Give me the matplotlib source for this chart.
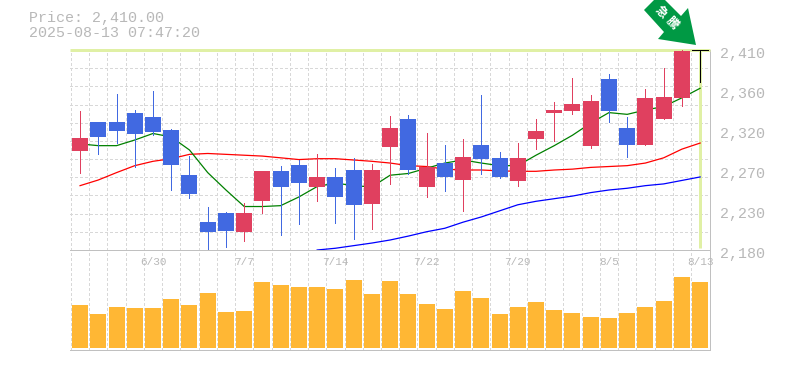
import numpy as np
import matplotlib
matplotlib.use("Agg")
import matplotlib.pyplot as plt
from matplotlib.patches import Polygon
from matplotlib.transforms import blended_transform_factory, Affine2D

W, H = 785, 370
dates = ["6/30", "7/7", "7/14", "7/22", "7/29", "8/5", "8/13"]
date_idx = [4, 9, 14, 19, 24, 29, 34]
price_labels = ["2,410", "2,360", "2,320", "2,270", "2,230", "2,180"]
price_ticks = [2410, 2364, 2318, 2272, 2226, 2180]

opens = [2294, 2327, 2327, 2338, 2333, 2318, 2266, 2212, 2223, 2201, 2236, 2271, 2278, 2252, 2264, 2272, 2233, 2298,
         2331, 2252, 2280, 2261, 2301, 2286, 2259, 2308, 2338, 2340, 2300, 2377, 2320, 2301, 2331, 2355, 2410]
closes = [2309, 2310, 2317, 2313, 2316, 2278, 2244, 2201, 2202, 2223, 2271, 2252, 2257, 2264, 2241, 2232, 2272, 2320,
          2272, 2275, 2264, 2287, 2285, 2264, 2286, 2317, 2341, 2348, 2351, 2340, 2301, 2355, 2356, 2409, 2410]
highs = [2340, 2327, 2359, 2341, 2363, 2319, 2288, 2229, 2224, 2234, 2271, 2277, 2284, 2290, 2274, 2286, 2279, 2334,
         2335, 2315, 2301, 2308, 2358, 2293, 2303, 2331, 2350, 2378, 2358, 2382, 2333, 2365, 2389, 2410, 2410]
lows = [2269, 2290, 2303, 2275, 2312, 2249, 2240, 2179, 2183, 2190, 2223, 2197, 2210, 2236, 2211, 2193, 2204, 2256,
        2267, 2241, 2248, 2225, 2267, 2263, 2254, 2296, 2305, 2336, 2297, 2327, 2287, 2301, 2331, 2346, 2373]
ma_green = [2302, 2300, 2300, 2306.5, 2314, 2310, 2295, 2269, 2249, 2230, 2230, 2231, 2241, 2253, 2257, 2254, 2252.5,
            2266, 2268, 2274, 2280, 2283.5, 2280, 2277, 2277, 2289, 2300, 2312, 2326, 2338, 2336, 2341, 2345, 2355, 2366]
ma_red = [2254, 2260.5, 2269, 2277, 2282, 2285, 2290, 2291, 2290, 2289, 2288, 2286, 2284, 2285, 2285, 2283.5, 2282,
          2280, 2277, 2276, 2273, 2272, 2272, 2271, 2270.5, 2270.5, 2272, 2273, 2275, 2276, 2277, 2280, 2286, 2296, 2303]
ma_blue = [2180, 2182, 2185, 2188, 2191.5, 2196, 2201, 2205, 2212, 2218, 2225, 2232, 2236, 2239, 2242, 2246, 2249,
           2251, 2254, 2256, 2260, 2264]
volumes = [43, 34, 41, 40, 40, 49, 43, 55, 36, 37, 66, 63, 61, 61, 59, 68, 54, 67,
           54, 44, 39, 57, 50, 34, 41, 46, 38, 35, 31, 30, 35, 41, 47, 71, 66]

n = len(opens)
xs = np.arange(n)
C_UP, C_DN, C_DOJI = "#E0405F", "#4169E1", "#000000"
GRID = "#D8D8D8"
FRAME = "#C0C0C0"
TXT = "#B8B8B8"
BAND = "#E0F0A5"
px = 1 / 100 * 72  # one pixel in points
thin = 0.95 * px
curve = 1.25 * px

fig = plt.figure(figsize=(W / 100, H / 100), dpi=100, facecolor="white")
L, R = 70.3, 710.0
def axes_px(top, bottom):
    return fig.add_axes([L / W, 1 - bottom / H, (R - L) / W, (bottom - top) / H])

ax = axes_px(50, 250)
vx = axes_px(250, 350)
xlim = (-0.535, 34.54)
for a in (ax, vx):
    a.set_xlim(*xlim)
    a.set_xticks([])
    a.set_yticks([])
    for s in a.spines.values():
        s.set_visible(False)
    a.set_facecolor("none")
    for b in np.arange(n) - 0.5:
        a.axvline(b, color=GRID, lw=thin, dashes=(3, 2.5), zorder=0, antialiased=False)
    a.plot([1, 1], [0, 1], transform=a.transAxes, color=FRAME, lw=thin, clip_on=False, zorder=1, antialiased=False)
    a.plot([0, 1], [0, 0], transform=a.transAxes, color=FRAME, lw=thin, clip_on=False, zorder=6, antialiased=False)

ax.set_ylim(2180, 2410)
for y in np.linspace(2180, 2410, 12)[1:-1]:
    ax.axhline(y, color=GRID, lw=thin, dashes=(3, 2.5), zorder=0, antialiased=False)

# last-price crosshair band
ax.plot(xlim, [closes[-1]] * 2, color=BAND, lw=3 * px, zorder=1, clip_on=False, solid_capstyle="butt")
ax.plot([xs[-1]] * 2, [2182, 2410], color=BAND, lw=3 * px, zorder=1, solid_capstyle="butt")

# moving averages
ax.plot(xs, ma_red, color="#FF0000", lw=curve, zorder=2)
ax.plot(xs[n - len(ma_blue):], ma_blue, color="#0000FF", lw=curve, zorder=2)
ax.plot(xs, ma_green, color="#008000", lw=curve, zorder=2)

# candles
for i in xs:
    o, c, h, l = opens[i], closes[i], highs[i], lows[i]
    col = C_DOJI if o == c else (C_UP if c > o else C_DN)
    if o == c:
        ax.plot([i - 0.44, i + 0.44], [c, c], color=col, lw=thin, zorder=7, solid_capstyle="butt", clip_on=False, antialiased=False)
        ax.plot([i, i], [l, h], color=col, lw=thin, zorder=7, solid_capstyle="butt", clip_on=False, antialiased=False)
    else:
        ax.plot([i, i], [l, h], color=col, lw=thin, zorder=3, solid_capstyle="butt", clip_on=(l < 2180), antialiased=False)
        ax.bar(i, abs(c - o), bottom=min(o, c), width=0.877, color=col, linewidth=0, zorder=4)

# volume
vx.set_ylim(-2, 98)
vx.bar(xs, volumes, width=0.877, color="#FFB734", linewidth=0, zorder=3)

# text
mono = "Liberation Mono"
tr = blended_transform_factory(ax.transAxes, ax.transData)
for v, lab in zip(price_ticks, price_labels):
    ax.annotate(lab, xy=(1, v), xycoords=tr, xytext=(10, -4), textcoords="offset pixels",
                ha="left", va="center", family=mono, fontsize=15 * px, color=TXT, annotation_clip=False)
for i, lab in zip(date_idx, dates):
    vx.annotate(lab, xy=(i, 1), xycoords=vx.get_xaxis_transform(), xytext=(0, -12), textcoords="offset pixels",
                ha="center", va="center", family=mono, fontsize=11 * px, color=TXT, annotation_clip=False)
fig.text(29 / W, 1 - 18 / H, "Price: 2,410.00", family=mono, fontsize=15 * px, color=TXT, ha="left", va="center")
fig.text(29 / W, 1 - 33 / H, "2025-08-13 07:47:20", family=mono, fontsize=15 * px, color=TXT, ha="left", va="center")

# marker arrow (figure pixels)
to_fig = Affine2D().scale(1 / W, -1 / H).translate(0, 1) + fig.transFigure
arrow = [(644, 10), (664, 32), (658, 39), (696, 45), (688, 8), (681, 16), (665, 0), (654, 0)]
fig.add_artist(Polygon(arrow, closed=True, transform=to_fig, facecolor="#009944", edgecolor="none", zorder=8))
for (x, y), ch in zip([(661, 12), (672, 23)], "急騰"):
    fig.text(x / W, 1 - y / H, ch, family="Noto Sans CJK JP", fontsize=12 * px, fontweight="bold", color="white",
             rotation=-45, rotation_mode="anchor", ha="center", va="center", zorder=9)

fig.savefig("out.png", dpi=100, facecolor="white")
